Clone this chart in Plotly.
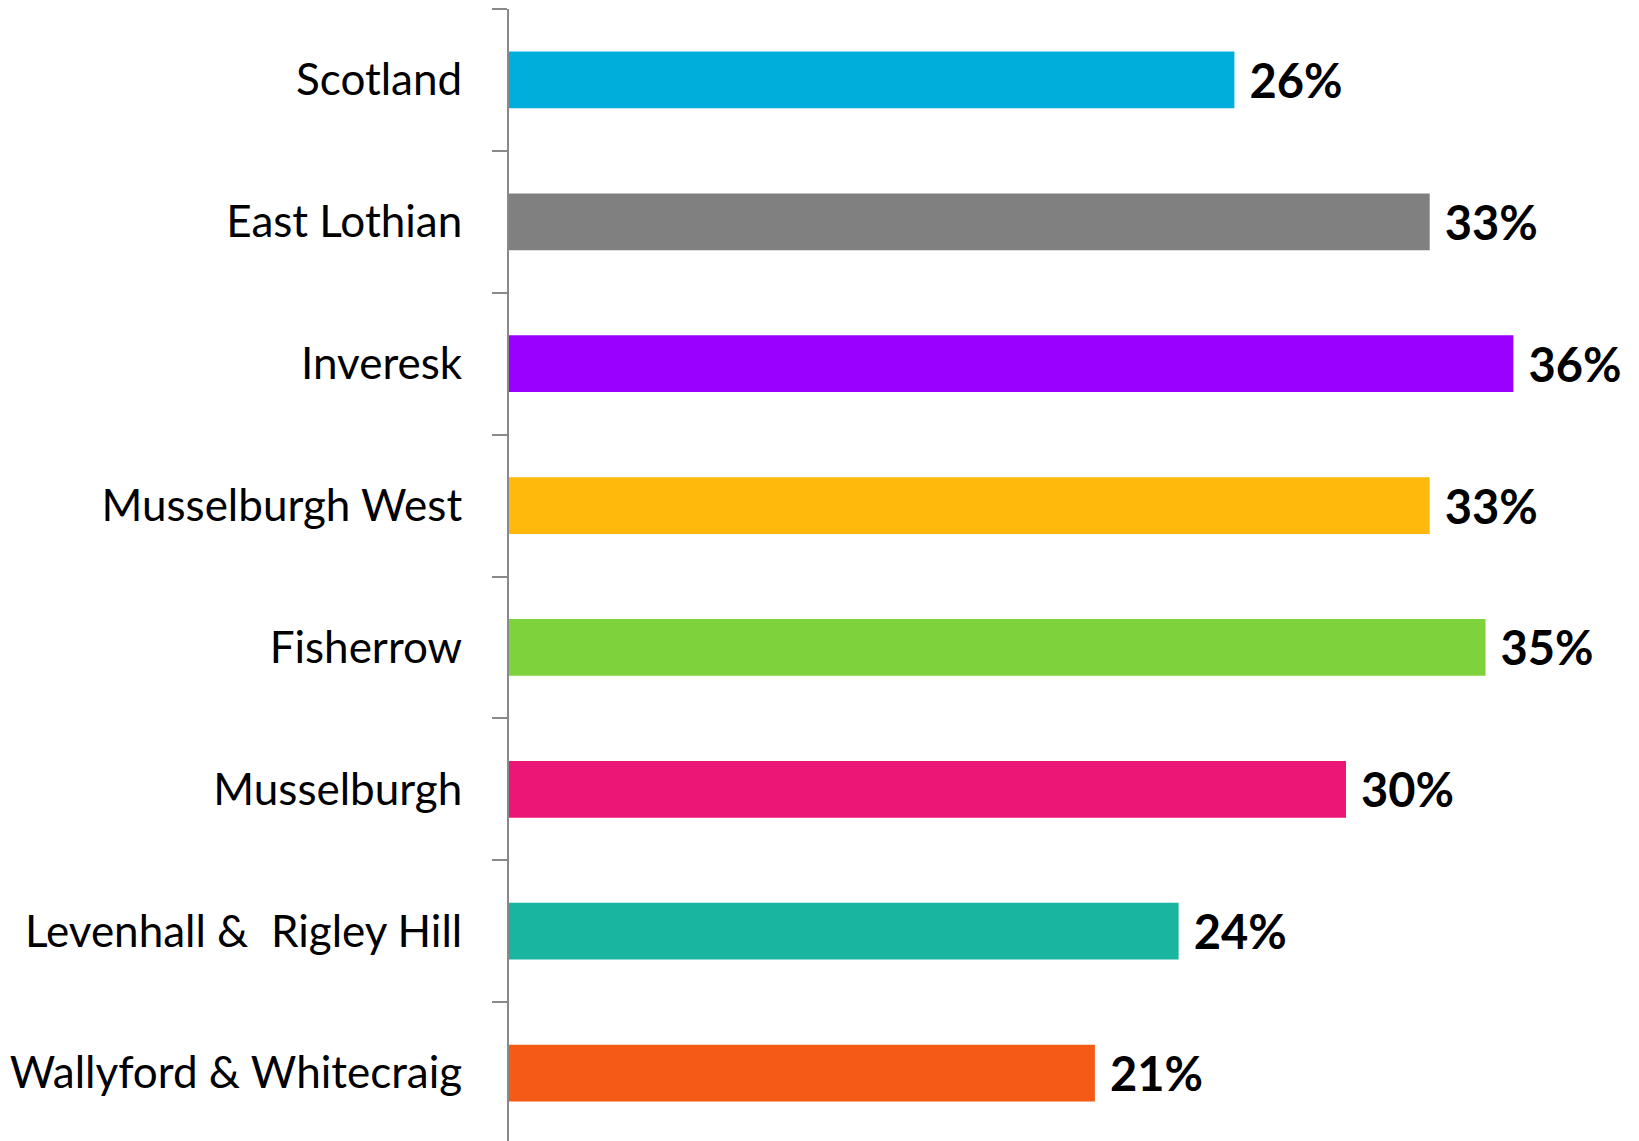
import plotly.graph_objects as go

areas = [
    "Scotland",
    "East Lothian",
    "Inveresk",
    "Musselburgh West",
    "Fisherrow",
    "Musselburgh",
    "Levenhall &  Rigley Hill",
    "Wallyford & Whitecraig",
]
values = [26, 33, 36, 33, 35, 30, 24, 21]
colours = [
    "#00AEDB", "#808080", "#9900FF", "#FFB80C",
    "#7ED23B", "#EC1677", "#1AB5A0", "#F55B17",
]

fig = go.Figure(go.Bar(
    x=values,
    y=areas,
    orientation="h",
    marker=dict(color=colours, line=dict(width=0)),
    width=0.4,
    # nbsp gives the gap between bar end and label
    text=[f"\u00a0<b>{v}%</b>" for v in values],
    textposition="outside",
    constraintext="none",
    textfont=dict(size=47, color="black", family="Lato"),
    cliponaxis=False,
    hoverinfo="skip",
))

# page body has an 8px margin, so offsets are trimmed by that
fig.update_layout(
    width=1639,
    height=1141,
    margin=dict(l=501, r=22, t=1, b=5, autoexpand=False),
    plot_bgcolor="white",
    paper_bgcolor="white",
    showlegend=False,
    font=dict(family="Lato", color="black"),
    xaxis=dict(range=[0, 40], visible=False, fixedrange=True, automargin=False),
    yaxis=dict(
        autorange="reversed",
        automargin=False,
        showline=True,
        linecolor="#898989",
        linewidth=2,
        ticks="outside",
        tickson="boundaries",
        ticklen=15,
        tickwidth=2,
        tickcolor="#898989",
        ticklabelstandoff=36,
        tickfont=dict(size=44, color="black", family="Lato"),
        showgrid=False,
        fixedrange=True,
    ),
)

fig.write_html("out.html")
